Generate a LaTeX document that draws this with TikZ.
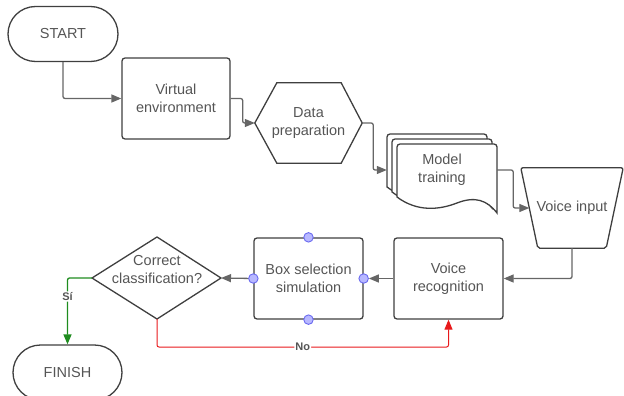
\documentclass[tikz,border=0pt]{standalone}
\usepackage{fontspec}
\setmainfont{Liberation Sans}
\usetikzlibrary{arrows.meta,calc}
\definecolor{txt}{HTML}{555555}
\definecolor{shapec}{HTML}{3F3F3F}
\definecolor{linec}{HTML}{666666}
\definecolor{dotfill}{HTML}{B8B8FF}
\definecolor{dotdraw}{HTML}{6A6AF0}
\definecolor{nored}{HTML}{E8191B}
\definecolor{sigreen}{HTML}{1E8C1E}
\newcommand\mfs{\fontsize{14.5}{18}\selectfont}
\newcommand\mydoc[2]{%
  \draw[shp,fill=white] (#1,#2+53) [rounded corners=3pt] -- (#1,#2) -- (#1+100,#2) [sharp corners] -- (#1+100,#2+69)
    .. controls (#1+90,#2+56) and (#1+78,#2+52) .. (#1+60,#2+59)
    .. controls (#1+42,#2+66) and (#1+20,#2+68) .. (#1,#2+53) -- cycle;}
\tikzset{
  shp/.style={draw=shapec, line width=1.3pt},
  box/.style={shp, rounded corners=3pt, minimum width=109pt, minimum height=81pt, inner sep=0pt, font=\mfs, text=txt, align=center},
  term/.style={shp, rounded corners=27.5pt, minimum width=110pt, minimum height=55pt, inner sep=0pt, font=\mfs, text=txt, align=center},
  plain/.style={inner sep=0pt, font=\mfs, text=txt, align=center},
  conn/.style={draw=linec, line width=1.3pt, rounded corners=2pt, -{Triangle[length=10pt,width=8pt]}},
  dot/.style={circle, draw=dotdraw, fill=dotfill, minimum size=9.5pt, inner sep=0pt, line width=0.9pt},
  lbl/.style={fill=white, font=\bfseries\fontsize{11}{13}\selectfont, text=txt, inner sep=1pt}
}
\begin{document}
\begin{tikzpicture}[x=1pt,y=-1pt]
\useasboundingbox (0,0) rectangle (624,396);
% nodes
\node[term] (start) at (63,34) {START};
\node[box, minimum width=108pt] (venv) at (176,98.5) {Virtual\\environment};
\node[plain, minimum width=107pt, minimum height=80pt] (prep) at (308.5,123) {Data\\preparation};
\draw[shp] (prep.west) -- ([xshift=22pt]prep.north west) -- ([xshift=-21pt]prep.north east) -- (prep.east)
  -- ([xshift=-21pt]prep.south east) -- ([xshift=22pt]prep.south west) -- cycle;
\mydoc{387}{134}
\mydoc{392}{139}
\mydoc{397}{144}
\node[plain, minimum width=110pt] (mt) at (442,170) {Model\\training};
\node[plain, minimum width=102pt, minimum height=80pt] (vin) at (572,208) {Voice input};
\draw[shp, rounded corners=2pt] (vin.north west) -- (vin.north east) -- ([xshift=-17pt]vin.south east)
  -- ([xshift=17pt]vin.south west) -- cycle;
\node[box] (vr) at (448.5,278.5) {Voice\\recognition};
\node[box] (bs) at (308.5,278.5) {Box selection\\simulation};
\coordinate (ccN) at (157,237);
\coordinate (ccE) at (221,278);
\coordinate (ccS) at (157,319);
\coordinate (ccW) at (92,278);
\draw[shp, line join=round] (ccN) -- (ccE) -- (ccS) -- (ccW) -- cycle;
\node[plain] (cc) at (157,270) {Correct\\classification?};
\node[term, minimum width=109pt] (finish) at (67.5,372.5) {FINISH};
% connectors
\draw[conn] (start.south) |- (venv.west);
\draw[conn] (venv.east) -- ++(12,0) |- (prep.west);
\draw[conn] (prep.east) -- ++(11,0) |- (mt.west);
\draw[conn] (mt.east) -- ++(16,0) |- ([xshift=8.5pt]vin.west);
\draw[conn] (vin.south) |- (vr.east);
\node[dot] (dN) at (bs.north) {};
\node[dot] (dS) at (bs.south) {};
\node[dot] (dE) at (bs.east) {};
\node[dot] (dW) at (bs.west) {};
\draw[conn] (vr.west) -- (dE);
\draw[conn] (dW) -- (ccE);
\draw[conn, draw=sigreen] (ccW) -| node[lbl, pos=0.64] {Sí} (finish.north);
\draw[conn, draw=nored, line width=1pt] (ccS) -- ++(0,28) -| node[lbl, pos=0.25] {No} (vr.south);
\end{tikzpicture}
\end{document}
